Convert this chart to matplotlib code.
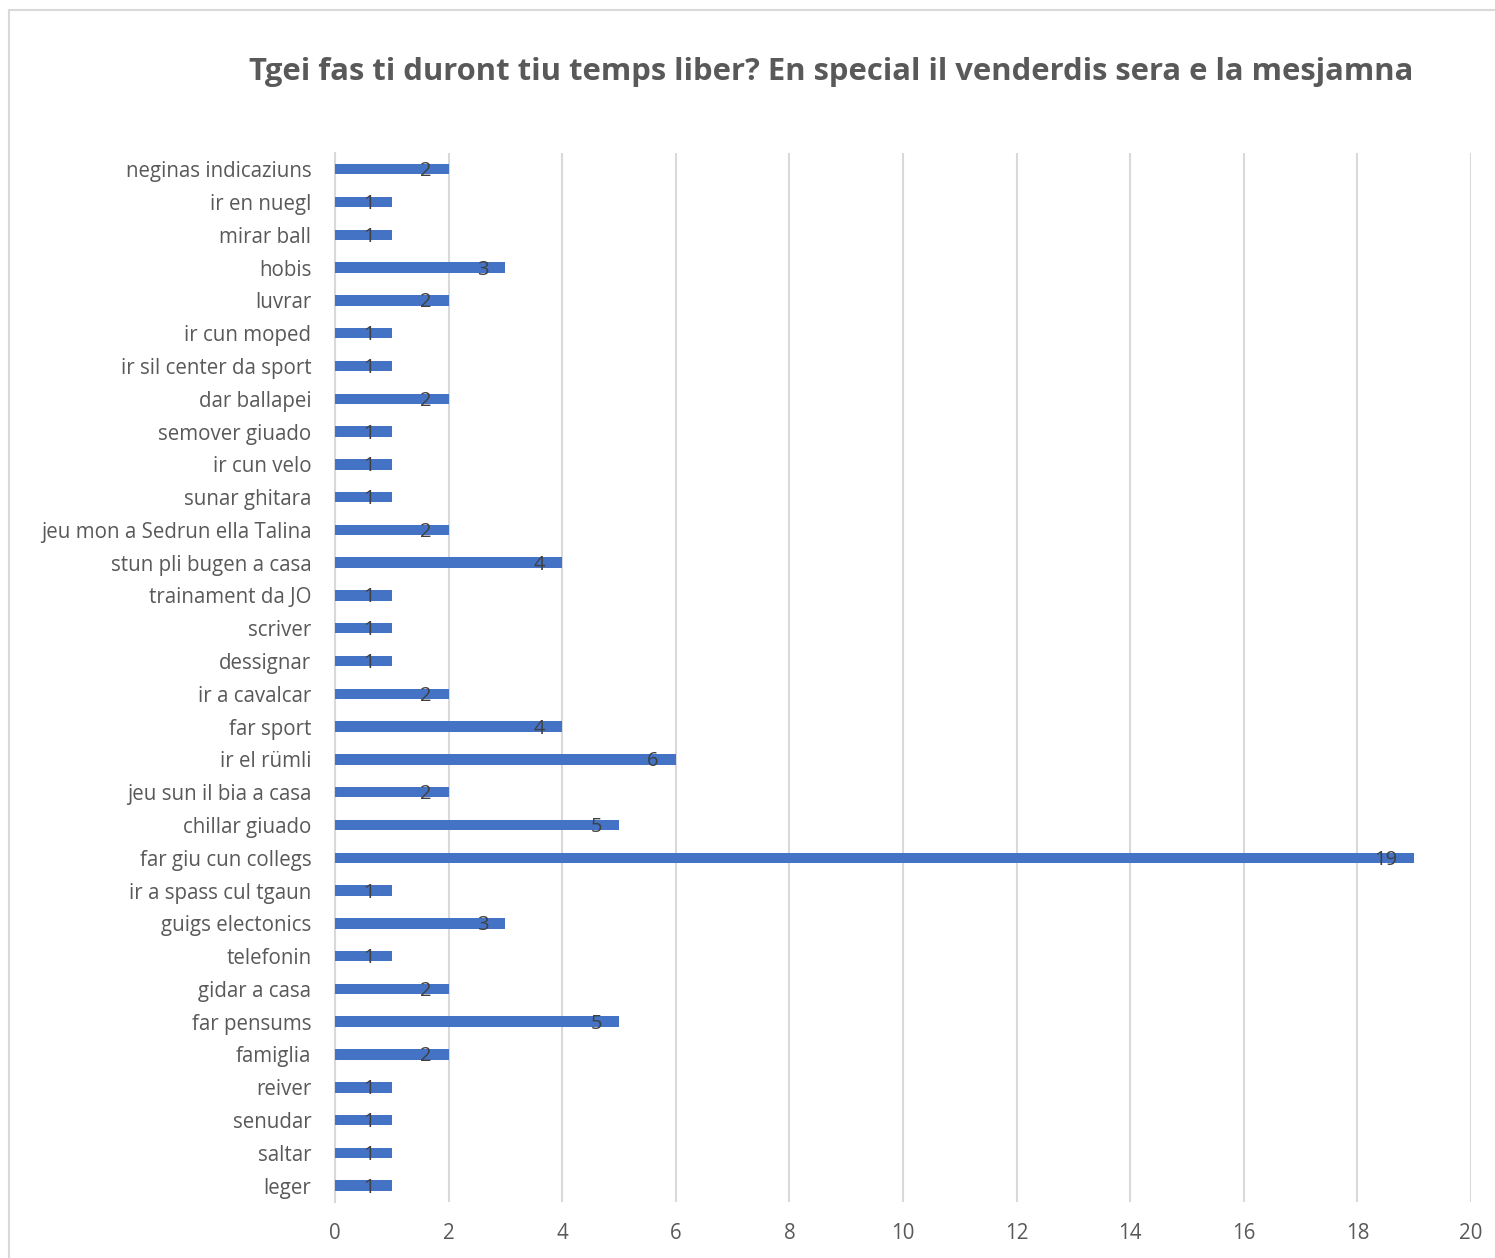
import matplotlib.pyplot as plt
from matplotlib.patches import Rectangle

# donnees (de haut en bas)
categories = ["neginas indicaziuns", "ir en nuegl", "mirar ball", "hobis", "luvrar",
              "ir cun moped", "ir sil center da sport", "dar ballapei", "semover giuado",
              "ir cun velo", "sunar ghitara", "jeu mon a Sedrun ella Talina",
              "stun pli bugen a casa", "trainament da JO", "scriver", "dessignar",
              "ir a cavalcar", "far sport", "ir el rümli", "jeu sun il bia a casa",
              "chillar giuado", "far giu cun collegs", "ir a spass cul tgaun",
              "guigs electonics", "telefonin", "gidar a casa", "far pensums",
              "famiglia", "reiver", "senudar", "saltar", "leger"]
values = [2, 1, 1, 3, 2, 1, 1, 2, 1, 1, 1, 2, 4, 1, 1, 1, 2, 4, 6, 2, 5, 19, 1,
          3, 1, 2, 5, 2, 1, 1, 1, 1]
xticks = list(range(0, 21, 2))
title = "Tgei fas ti duront tiu temps liber? En special il venderdis sera e la mesjamna"

plt.rcParams['font.family'] = ['Open Sans', 'DejaVu Sans']

fig = plt.figure(figsize=(14.95, 12.58), dpi=100)
ax = fig.add_axes([0.2241, 0.0445, 0.7599, 0.834])

# ordre inverse : le premier en haut
cats = categories[::-1]
vals = values[::-1]
pos = list(range(len(cats)))

ax.barh(pos, vals, height=0.32, color='#4472C4', zorder=3)
for p, v in zip(pos, vals):
    # etiquette a l'interieur, pres du bout de la barre
    off = 0.4 if v < 10 else 0.5
    ax.text(v - off, p - 0.06, str(v), ha='center', va='center', fontsize=14.5,
            color='#404040', zorder=4)

ax.set_yticks(pos)
ax.set_yticklabels(cats, fontsize=14.8, color='#595959')
ax.set_ylim(-0.5, len(cats) - 0.5)
ax.set_xlim(0, 20)
ax.set_xticks(xticks)
ax.set_xticklabels([str(t) for t in xticks], fontsize=14.8, color='#595959')
ax.tick_params(axis='y', length=0, pad=17)
ax.tick_params(axis='x', length=0, pad=15)
ax.xaxis.grid(True, color='#d9d9d9', linewidth=1.5, zorder=0)
for s in ['top', 'right', 'bottom']:
    ax.spines[s].set_visible(False)
ax.spines['left'].set_color('#d9d9d9')
ax.spines['left'].set_linewidth(1.5)

fig.text(0.556, 0.9425, title, ha='center', va='center', fontsize=22.3,
         fontweight='bold', color='#595959')

# cadre du graphique
fig.patches.append(Rectangle((9 / 1495, -0.01), 1.1, 1 - 10 / 1258 + 0.01,
                             transform=fig.transFigure, fill=False,
                             edgecolor='#d9d9d9', linewidth=1.5))

fig.savefig('out.png', dpi=100)
